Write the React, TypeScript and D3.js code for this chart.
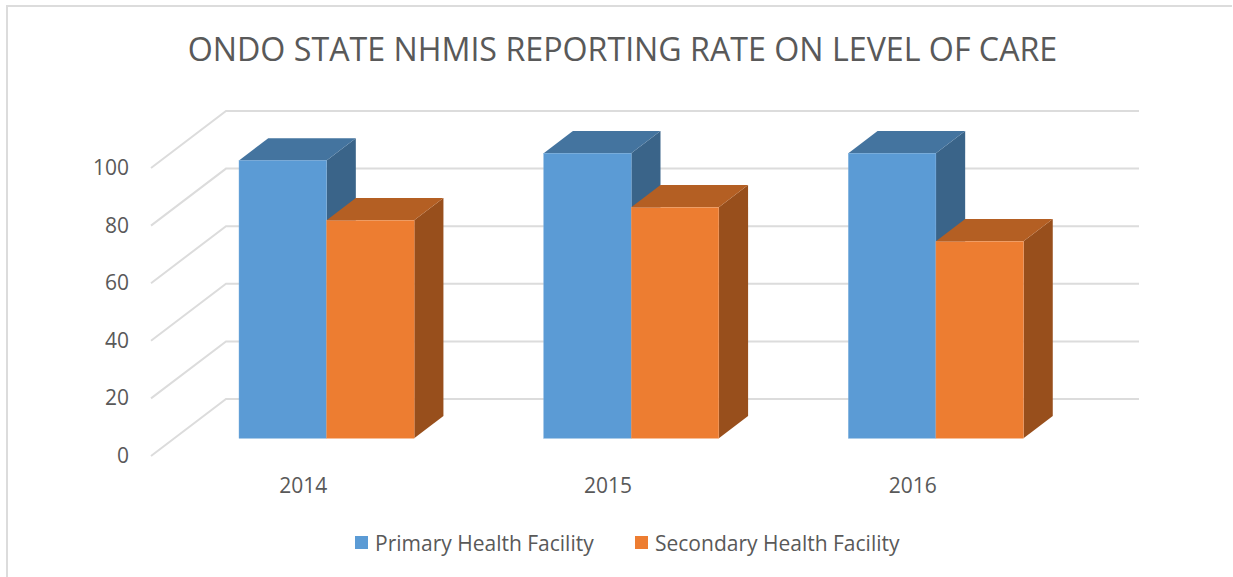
import * as d3 from 'd3';

const years = ['2014', '2015', '2016'];
const primary = [96.5, 99, 99];
const secondary = [75.7, 80.2, 68.4];
const yTicks = [0, 20, 40, 60, 80, 100];
const seriesNames = ['Primary Health Facility', 'Secondary Health Facility'];

const FONT = '"Open Sans", sans-serif';
const TEXT = '#595959';
const GRID = '#dcdcdc';

// the floor runs back up and to the right, this is the full depth of the box
const depthX = 75;
const depthY = 57;
const barFrontDepth = 0.31;
const barBackDepth = 0.7;

const x = d3.scaleBand<string>().domain(years).range([151, 1065]).padding(0);
const y = d3.scaleLinear().domain([0, 100]).range([456, 168]);

const seriesStyles = [
  { values: primary, front: '#5b9bd5', top: '#44749f', side: '#3a6489', edge: '#7fb1de' },
  { values: secondary, front: '#ed7d31', top: '#b45f23', side: '#984f1c', edge: '#f3a06a' },
];

const poly = d3.line();

function Bar({ x0, x1, value, style }: { x0: number; x1: number; value: number; style: (typeof seriesStyles)[0] }) {
  const fx = depthX * barFrontDepth;
  const fy = depthY * barFrontDepth;
  const bx = depthX * barBackDepth;
  const by = depthY * barBackDepth;
  const bottom = y(0) - fy;
  const top = y(value) - fy;
  const rise = by - fy;
  const l = x0 + fx;
  const r = x1 + fx;
  const lb = x0 + bx;
  const rb = x1 + bx;
  const topFace: [number, number][] = [[l, top], [r, top], [rb, top - rise], [lb, top - rise]];
  const sideFace: [number, number][] = [[r, top], [rb, top - rise], [rb, bottom - rise], [r, bottom]];
  return (
    <g>
      <path d={poly(sideFace) + 'Z'} fill={style.side} />
      <path d={poly(topFace) + 'Z'} fill={style.top} />
      <rect x={l} y={top} width={r - l} height={bottom - top} fill={style.front} stroke={style.edge} strokeWidth={0.4} />
    </g>
  );
}

export default function App() {
  const step = x.bandwidth();
  const inner = 0.2125 * step;
  const barW = (step - inner * 2) / 2;

  return (
    <svg
      width={1233}
      height={577}
      style={{ position: 'absolute', left: 0, top: 0, display: 'block', background: '#fff' }}
    >
      {/* chart frame, only the left and top edges are in the picture */}
      <path d="M7,577V6H1232" fill="none" stroke={GRID} strokeWidth={2} />

      <text x={622.5} y={61} textAnchor="middle" fontFamily={FONT} fontSize={32.2} fill={TEXT}>
        ONDO STATE NHMIS REPORTING RATE ON LEVEL OF CARE
      </text>

      {yTicks.map((t) => (
        <g key={t}>
          <path
            d={poly([[151, y(t)], [151 + depthX, y(t) - depthY], [1139, y(t) - depthY]]) || ''}
            fill="none"
            stroke={GRID}
            strokeWidth={2}
          />
          <text x={129} y={y(t) + 7} textAnchor="end" fontFamily={FONT} fontSize={21} fill={TEXT}>
            {t}
          </text>
        </g>
      ))}

      {years.map((yr, i) => {
        const x0 = x(yr)! + inner;
        return (
          <g key={yr}>
            {seriesStyles.map((s, j) => (
              <Bar key={j} x0={x0 + j * barW} x1={x0 + (j + 1) * barW} value={s.values[i]} style={s} />
            ))}
            <text x={x(yr)! + step / 2} y={492.5} textAnchor="middle" fontFamily={FONT} fontSize={21} fill={TEXT}>
              {yr}
            </text>
          </g>
        );
      })}

      {seriesNames.map((name, i) => {
        const lx = [355, 635][i];
        return (
          <g key={name}>
            <rect x={lx} y={536} width={13} height={13} fill={seriesStyles[i].front} />
            <text x={lx + 20} y={551} fontFamily={FONT} fontSize={21} fill={TEXT}>
              {name}
            </text>
          </g>
        );
      })}
    </svg>
  );
}
